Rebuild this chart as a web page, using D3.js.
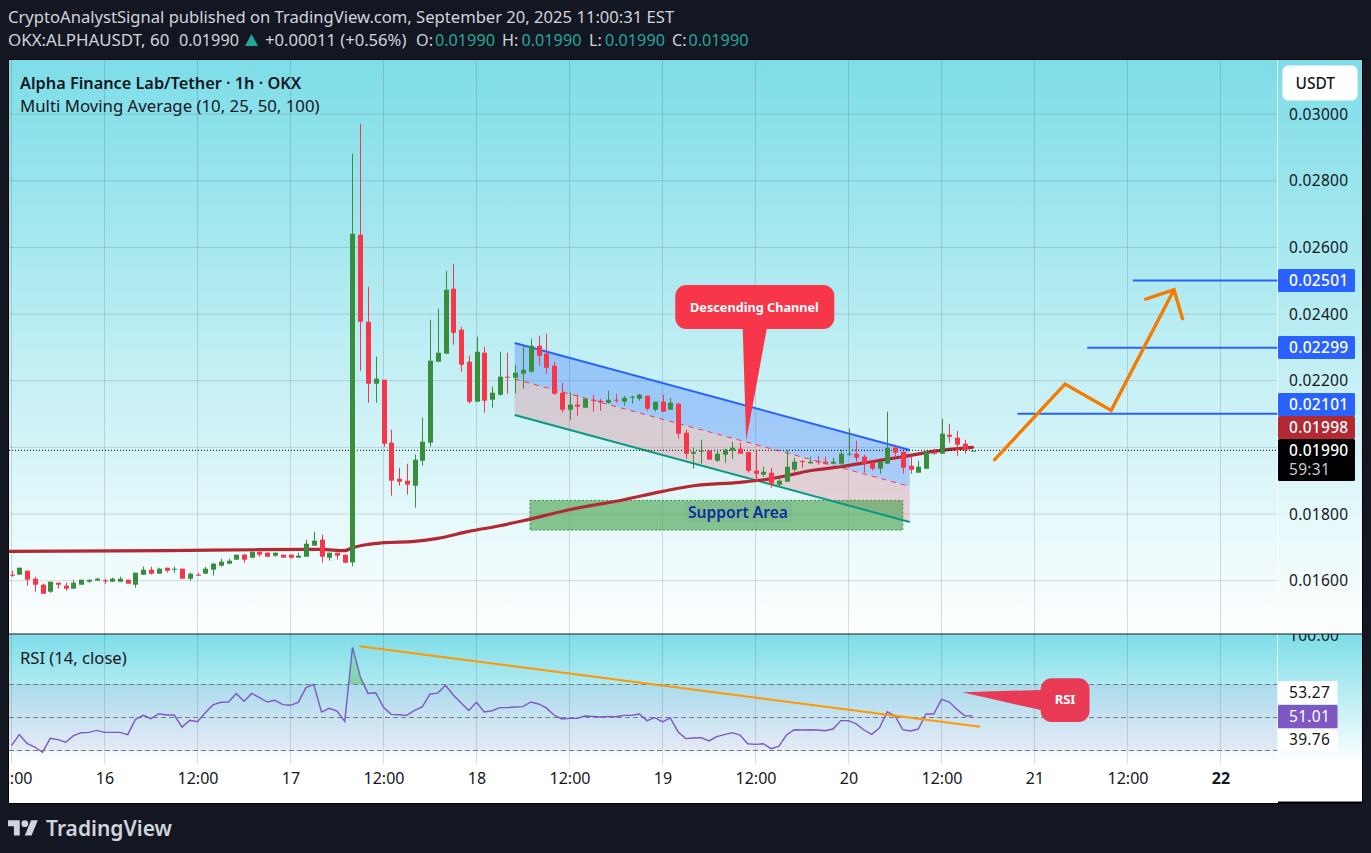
<!DOCTYPE html>
<html>
<head>
<meta charset="utf-8">
<script src="https://cdn.jsdelivr.net/npm/d3@7/dist/d3.min.js"></script>
<style>
html,body{margin:0;padding:0;background:#131722;overflow:hidden}
svg{display:block}
text{font-family:"Noto Sans",sans-serif}
</style>
</head>
<body>
<svg id="c" width="1371" height="853"></svg>
<script>
// Prices are in ticks of 0.00001. Bars are hourly; bar 0 is 12:00 on the 15th.
const opens=[1618,1618,1630,1606,1588,1567,1594,1585,1576,1588,
1597,1600,1601,1597,1597,1603,1588,1618,1633,1621,
1639,1634,1636,1606,1618,1621,1633,1645,1651,1663,
1678,1669,1687,1684,1675,1678,1678,1669,1672,1705,
1723,1669,1684,1678,1655,2638,2377,2191,2203,2014,
1906,1900,1885,1960,2014,2257,2281,2476,2353,2257,
2137,2284,2143,2158,2212,2209,2221,2227,2305,2281,
2245,2164,2113,2128,2119,2143,2140,2134,2143,2137,
2150,2146,2155,2113,2137,2113,2131,2044,1981,1987,
1990,1960,1978,1990,1996,1986,1930,1918,1924,1888,
1897,1933,1959,1952,1958,1957,1951,1951,1978,1981,
1972,1954,1936,1951,1999,1987,1945,1924,1936,1984,
1981,2038,2029,2011,1990];
const highs=[1630,1639,1630,1612,1591,1597,1594,1594,1603,1603,
1603,1609,1606,1609,1612,1603,1624,1642,1642,1639,
1639,1642,1636,1624,1624,1642,1654,1666,1666,1678,
1681,1687,1687,1684,1684,1678,1678,1684,1723,1747,
1738,1684,1684,1678,2881,2971,2482,2272,2203,2053,
1939,1951,1978,2089,2383,2416,2530,2551,2362,2275,
2332,2302,2182,2287,2284,2248,2305,2326,2335,2341,
2257,2194,2164,2158,2146,2158,2146,2170,2161,2155,
2155,2161,2155,2137,2158,2149,2134,2053,1999,2023,
1990,1993,1996,2017,2014,1986,1990,1942,1939,1909,
1993,1969,1962,1972,1975,1972,1969,1993,2056,2020,
1978,1957,1957,2107,2008,1987,1975,1960,1990,1996,
2086,2071,2050,2023,1990];
const lows=[1612,1618,1585,1567,1561,1564,1576,1570,1576,1588,
1594,1600,1591,1597,1597,1591,1579,1618,1618,1621,
1624,1624,1606,1600,1615,1621,1615,1642,1651,1663,
1654,1669,1672,1672,1672,1669,1666,1669,1672,1705,
1654,1660,1663,1654,1643,2230,2134,2134,2002,1855,
1885,1858,1819,1945,2002,2257,2281,2308,2227,2131,
2137,2104,2119,2155,2161,2161,2176,2224,2245,2221,
2158,2104,2083,2095,2119,2107,2110,2131,2134,2125,
2131,2140,2110,2107,2107,2113,2026,1966,1936,1951,
1963,1957,1954,1966,1981,1924,1897,1912,1879,1882,
1897,1927,1939,1952,1948,1948,1951,1942,1975,1957,
1924,1930,1921,1951,1969,1921,1921,1924,1936,1978,
1981,2014,1975,1981,1990];
const closes=[1615,1639,1603,1588,1561,1597,1588,1576,1594,1603,
1603,1606,1598,1606,1606,1591,1624,1633,1621,1636,
1630,1636,1606,1621,1615,1636,1651,1657,1660,1678,
1663,1687,1678,1672,1684,1669,1669,1675,1711,1720,
1672,1684,1675,1654,2641,2377,2191,2206,2011,1900,
1897,1888,1963,2017,2260,2284,2473,2344,2248,2137,
2287,2140,2164,2212,2209,2224,2233,2305,2275,2239,
2161,2113,2128,2122,2146,2140,2135,2143,2140,2149,
2152,2158,2116,2137,2107,2134,2041,1981,1987,1990,
1963,1981,1993,1999,1981,1930,1921,1927,1891,1900,
1942,1957,1956,1957,1955,1951,1957,1981,1981,1969,
1951,1936,1957,1999,1984,1939,1933,1942,1987,1981,
2041,2032,2008,1993,1990];
const maBars=[-1,20,32,40,43,44,46,48,52,55,59,63,66,72,79,84,88,94,98,100,103,107,111,115,119,124];
const maValues=[1688,1690,1693,1694,1690,1699,1709,1714,1718,1727,1748,1765,1780,1813,1843,1868,1885,1895,1906,1915,1930,1942,1957,1972,1988,2000];
const rsiValues=[32.9,39.6,34.3,32.1,28.9,37.4,36.6,35.0,39.0,40.8,
41.0,42.2,41.0,41.0,41.0,39.6,48.9,51.3,49.3,52.3,
51.5,51.5,44.2,48.3,47.5,52.9,57.6,59.2,59.4,64.6,
59.8,64.6,62.0,59.4,60.4,57.8,57.4,59.2,68.1,70.1,
53.3,55.6,53.9,47.7,92.5,74.7,64.6,65.0,56.2,51.9,
51.7,51.3,54.3,56.4,64.2,64.8,69.5,63.6,59.0,54.3,
59.2,53.3,54.1,56.0,56.0,56.4,56.6,59.4,58.2,55.8,
51.5,49.1,49.5,49.5,50.9,50.7,50.3,50.7,50.5,51.3,
51.3,52.1,48.1,49.9,47.3,49.7,41.4,37.2,37.6,37.8,
35.8,38.4,39.6,40.8,39.4,34.1,33.7,34.1,31.1,32.5,
39.4,42.6,42.4,42.6,42.4,42.0,43.0,48.1,48.1,46.1,
42.4,39.8,43.8,53.5,50.9,42.6,41.8,43.0,52.1,52.1,
61.0,59.4,54.9,51.1,51.0];
// Tick labels
const priceTicks=[3000,2800,2600,2400,2200,1800,1600];
const priceGrid=[3000,2800,2600,2400,2200,2000,1800,1600];
const timeBars=[0,12,24,36,48,60,72,84,96,108,120,132,144,156];
const timeLabels=["12:00","16","12:00","17","12:00","18","12:00","19","12:00","20","12:00","21","12:00","22"];
const rsiBands=[70,50,30];
// Drawings
const levelValues=[2501,2299,2101];
const levelStartBars=[144.7,138.8,129.8];
const channelBars=[64.93,115.9];
const channelTop=[2313,1992];
const channelMid=[2205,1883];
const channelBottom=[2097,1776];
const supportBars=[66.9,115];
const supportValues=[1841,1752];
const arrowBars=[126.86,135.94,141.9,150,146.35,150,151.1];
const arrowValues=[1963,2190,2111,2473,2445,2473,2386];
const rsiTrendBars=[44.9,125];
const rsiTrendValues=[93.2,44.4];
const lastClose=1990, maLast=1998, rsiLast=51.01, rsiMa=53.27, rsiOther=39.76;

const svg=d3.select("#c");
const defs=svg.append("defs");
const x=d3.scaleLinear().domain([0,12]).range([11.5,104.5]);
const y=d3.scaleLinear().domain([1600,3000]).range([580.7,114.1]);
const r=d3.scaleLinear().domain([30,70]).range([750.5,684.5]);
const fmt=v=>(v/1e5).toFixed(5);
const F={l:9,r:1362,pa:1278,t:60,sep:634,rb:764,b:803};

function grad(id,y1,y2,stops){
  const g=defs.append("linearGradient").attr("id",id).attr("gradientUnits","userSpaceOnUse")
    .attr("x1",0).attr("x2",0).attr("y1",y1).attr("y2",y2);
  stops.forEach(s=>g.append("stop").attr("offset",s[0]).attr("stop-color",s[1]).attr("stop-opacity",s[2]===undefined?1:s[2]));
}
grad("gMain",F.t,F.sep,[[0,"#7ddde8"],[1,"#ffffff"]]);
grad("gRsi",F.sep,F.rb,[[0,"#7ddde8"],[1,"#ffffff"]]);
grad("gOb",r(100),r(70),[[0,"#4caf50",0.02],[1,"#4caf50",0.45]]);
defs.append("clipPath").attr("id","cpMain").append("rect").attr("x",F.l).attr("y",F.t).attr("width",F.pa-F.l).attr("height",F.sep-F.t);
defs.append("clipPath").attr("id","cpRsi").append("rect").attr("x",F.l).attr("y",F.sep).attr("width",F.pa-F.l).attr("height",F.rb-F.sep);
defs.append("clipPath").attr("id","cpOb").append("rect").attr("x",F.l).attr("y",F.sep).attr("width",F.pa-F.l).attr("height",r(70)-F.sep);
defs.append("clipPath").attr("id","cpTime").append("rect").attr("x",F.l).attr("y",F.rb).attr("width",F.pa-F.l).attr("height",F.b-F.rb);
defs.append("clipPath").attr("id","cpRAxis").append("rect").attr("x",F.pa).attr("y",F.sep).attr("width",F.r-F.pa).attr("height",F.rb-F.sep);

// Frame
svg.append("rect").attr("width",1371).attr("height",853).attr("fill","#131722");
svg.append("rect").attr("x",F.l).attr("y",F.t).attr("width",F.r-F.l).attr("height",F.sep-F.t).attr("fill","url(#gMain)");
svg.append("rect").attr("x",F.l).attr("y",F.sep).attr("width",F.r-F.l).attr("height",F.rb-F.sep).attr("fill","url(#gRsi)");
svg.append("rect").attr("x",F.l).attr("y",F.rb).attr("width",F.r-F.l).attr("height",F.b-F.rb).attr("fill","#fff");

const main=svg.append("g").attr("clip-path","url(#cpMain)");
const gridC="rgba(42,46,57,0.16)";
main.selectAll("line.gx").data(timeBars).join("line").attr("x1",d=>x(d)).attr("x2",d=>x(d)).attr("y1",F.t).attr("y2",F.sep).attr("stroke",gridC);
main.selectAll("line.gy").data(priceGrid).join("line").attr("x1",F.l).attr("x2",F.pa).attr("y1",d=>y(d)).attr("y2",d=>y(d)).attr("stroke",gridC);

// Channel fills and support area sit below the series
const band=(a,b)=>d3.line()([[x(channelBars[0]),y(a[0])],[x(channelBars[1]),y(a[1])],[x(channelBars[1]),y(b[1])],[x(channelBars[0]),y(b[0])]])+"Z";
main.append("path").attr("d",band(channelTop,channelMid)).attr("fill","#2962ff").attr("fill-opacity",0.28);
main.append("path").attr("d",band(channelMid,channelBottom)).attr("fill","#f7364a").attr("fill-opacity",0.2);
main.append("rect").attr("x",x(supportBars[0])).attr("width",x(supportBars[1])-x(supportBars[0]))
  .attr("y",y(supportValues[0])).attr("height",y(supportValues[1])-y(supportValues[0]))
  .attr("fill","#43a047").attr("fill-opacity",0.6).attr("stroke","#388e3c").attr("stroke-dasharray","2 2");
main.append("rect").attr("x",685).attr("y",501.5).attr("width",107).attr("height",21.5).attr("fill","rgba(120,123,134,0.1)");
const seg=(vals,color,w,dash)=>main.append("line").attr("x1",x(channelBars[0])).attr("x2",x(channelBars[1])).attr("y1",y(vals[0])).attr("y2",y(vals[1]))
  .attr("stroke",color).attr("stroke-width",w).attr("stroke-dasharray",dash||null);
seg(channelTop,"#2962ff",2);
seg(channelMid,"#f7364a",1,"5 5");
seg(channelBottom,"#089981",2);

// MA
const maPts=maBars.map((b,i)=>[b,maValues[i]]);
main.append("path").attr("d",d3.line().x(d=>x(d[0])).y(d=>y(d[1])).curve(d3.curveMonotoneX)(maPts))
  .attr("fill","none").attr("stroke","#b22833").attr("stroke-width",3.2).attr("stroke-linecap","round");

// Last price dotted line
main.append("line").attr("x1",F.l).attr("x2",F.pa).attr("y1",y(lastClose)-0.4).attr("y2",y(lastClose)-0.4)
  .attr("stroke","#000").attr("stroke-width",1).attr("stroke-dasharray","1 2");

// Candles
const up="#388e3c", dn="#f7364a";
const col=i=>closes[i]>=opens[i]?up:dn;
const idx=d3.range(opens.length);
main.selectAll("line.w").data(idx).join("line").attr("class","w")
  .attr("x1",i=>Math.round(x(i))+0.5).attr("x2",i=>Math.round(x(i))+0.5)
  .attr("y1",i=>y(highs[i])).attr("y2",i=>y(lows[i])).attr("stroke",col).attr("stroke-width",1);
main.selectAll("rect.b").data(idx).join("rect").attr("class","b")
  .attr("x",i=>Math.round(x(i))-2).attr("width",5)
  .attr("y",i=>Math.min(y(opens[i]),y(closes[i])))
  .attr("height",i=>Math.max(1,Math.abs(y(opens[i])-y(closes[i]))))
  .attr("fill",col);

// Support label
main.append("text").attr("x",738).attr("y",518).attr("text-anchor","middle").attr("font-size",15.6).attr("font-weight",600).attr("fill","#0d2e9c").text("Support Area");

// Levels
main.selectAll("line.lv").data(levelValues).join("line").attr("x1",(d,i)=>x(levelStartBars[i])).attr("x2",F.pa).attr("y1",d=>y(d)).attr("y2",d=>y(d)).attr("stroke","#2962ff").attr("stroke-width",2);

// Orange arrow
const arrow=arrowBars.map((b,i)=>[x(b),y(arrowValues[i])]);
main.append("path").attr("d",d3.line()(arrow.slice(0,4))+"M"+arrow[4]+"L"+arrow[5]+"L"+arrow[6])
  .attr("fill","none").attr("stroke","#f57c00").attr("stroke-width",3.4).attr("stroke-linejoin","miter").attr("stroke-linecap","round");

// Callout helper
function callout(g,x0,x1,y0,y1,rad,tip,base,fill,baseSide){
  const p=d3.path();
  if(baseSide==="bottom"){
    p.moveTo(x0+rad,y0);p.arcTo(x1,y0,x1,y0+rad,rad);p.arcTo(x1,y1,x1-rad,y1,rad);
    p.lineTo(base[1],y1);p.lineTo(tip[0],tip[1]);p.lineTo(base[0],y1);
    p.arcTo(x0,y1,x0,y1-rad,rad);p.arcTo(x0,y0,x0+rad,y0,rad);
  } else {
    p.moveTo(x0+rad,y0);p.arcTo(x1,y0,x1,y0+rad,rad);p.arcTo(x1,y1,x1-rad,y1,rad);p.arcTo(x0,y1,x0,y1-rad,rad);
    p.lineTo(x0,base[1]);p.lineTo(tip[0],tip[1]);p.lineTo(x0,base[0]);p.arcTo(x0,y0,x0+rad,y0,rad);
  }
  p.closePath();
  g.append("path").attr("d",p.toString()).attr("fill",fill);
}
callout(main,x(85.65),x(106.17),y(2487),y(2355),11,[x(94.8),y(2021)],[x(94.35),x(97.45)],"#f7364a","bottom");
main.append("text").attr("x",754.5).attr("y",311.5).attr("text-anchor","middle").attr("font-size",12.7).attr("font-weight",700).attr("fill","#fff").text("Descending Channel");

// Chart title
svg.append("text").attr("x",20).attr("y",89).attr("font-size",16.3).attr("font-weight",600).attr("fill","#131722").text("Alpha Finance Lab/Tether · 1h · OKX");
svg.append("text").attr("x",20).attr("y",111.5).attr("font-size",16.8).attr("fill","#131722").text("Multi Moving Average (10, 25, 50, 100)");

// RSI pane
const rp=svg.append("g").attr("clip-path","url(#cpRsi)");
rp.append("rect").attr("x",F.l).attr("width",F.pa-F.l).attr("y",r(70)).attr("height",r(30)-r(70)).attr("fill","#7e57c2").attr("fill-opacity",0.1);
rp.selectAll("line.gx").data(timeBars).join("line").attr("x1",d=>x(d)).attr("x2",d=>x(d)).attr("y1",F.sep).attr("y2",F.rb).attr("stroke",gridC);
rp.selectAll("line.bd").data(rsiBands).join("line").attr("x1",F.l).attr("x2",F.pa).attr("y1",d=>r(d)).attr("y2",d=>r(d)).attr("stroke","#787b86").attr("stroke-dasharray","5 3");
svg.append("path").attr("clip-path","url(#cpOb)")
  .attr("d",d3.area().x((d,i)=>x(i)).y0(r(70)).y1(d=>r(d))(rsiValues)).attr("fill","url(#gOb)");
rp.append("path").attr("d",d3.line().x((d,i)=>x(i)).y(d=>r(d))(rsiValues)).attr("fill","none").attr("stroke","#7e57c2").attr("stroke-width",1.4);
rp.append("line").attr("x1",x(rsiTrendBars[0])).attr("x2",x(rsiTrendBars[1])).attr("y1",r(rsiTrendValues[0])).attr("y2",r(rsiTrendValues[1])).attr("stroke","#ff9800").attr("stroke-width",2);
callout(rp,x(132.8),x(139.1),r(73.8),r(47.3),11,[x(122.7),r(65.3)],[r(66.7),r(54.5)],"#e83a55","left");
rp.append("text").attr("x",1065).attr("y",704).attr("text-anchor","middle").attr("font-size",13).attr("font-weight",700).attr("fill","#fff").text("RSI");
svg.append("text").attr("x",20).attr("y",663.5).attr("font-size",16.6).attr("fill","#131722").text("RSI (14, close)");

// Time axis
const timeAxis=d3.axisBottom(x).tickValues(timeBars).tickSize(0).tickPadding(0).tickFormat((d,i)=>timeLabels[i]);
const tg=svg.append("g").attr("clip-path","url(#cpTime)").append("g").attr("transform",`translate(0,${F.rb+9})`).call(timeAxis);
tg.select(".domain").remove();
tg.selectAll("text").attr("font-size",16).attr("font-family","'Noto Sans',sans-serif").attr("fill","#131722")
  .attr("font-weight",(d,i)=>timeLabels[i]==="22"?700:400);

// Price axis
svg.append("line").attr("x1",F.pa-0.5).attr("x2",F.pa-0.5).attr("y1",F.t).attr("y2",F.rb).attr("stroke","#fff").attr("stroke-opacity",0.7);
const axisAttrs=s=>s.attr("font-size",15.5).attr("letter-spacing",0.3).attr("fill","#131722");
const priceAxis=d3.axisRight(y).tickValues(priceTicks).tickSize(0).tickPadding(0).tickFormat(fmt);
const pg=svg.append("g").attr("transform","translate(1289,0)").call(priceAxis);
pg.select(".domain").remove();
pg.selectAll("text").attr("font-family","'Noto Sans',sans-serif").call(axisAttrs);

function tag(y0,y1,fill,label,color,ty){
  svg.append("rect").attr("x",F.pa).attr("y",y0).attr("width",77).attr("height",y1-y0).attr("fill",fill).attr("rx",1.5);
  axisAttrs(svg.append("text").attr("x",1289).attr("y",ty||((y0+y1)/2+5.5)).attr("font-weight",500).text(label)).attr("fill",color);
}
tag(269,292,"#2962ff",fmt(levelValues[0]),"#fff");
tag(336,359,"#2962ff",fmt(levelValues[1]),"#fff");
tag(393,416,"#2962ff",fmt(levelValues[2]),"#fff");
tag(416,439,"#b22833",fmt(maLast),"#fff");
tag(439,481,"#000000",fmt(lastClose),"#fff",456);
axisAttrs(svg.append("text").attr("x",1289).attr("y",475).text("59:31")).attr("fill","#c8c8c8");

// USDT button
svg.append("rect").attr("x",1282.5).attr("y",65.5).attr("width",75).attr("height",35).attr("rx",6).attr("fill","#fff").attr("stroke","#cfeef2");
svg.append("text").attr("x",1295.5).attr("y",88.5).attr("font-size",15.5).attr("font-weight",500).attr("fill","#131722").text("USDT");

// RSI axis labels
function rtag(y0,y1,fill,v,color){
  svg.append("rect").attr("x",F.pa).attr("y",y0).attr("width",59.5).attr("height",y1-y0).attr("fill",fill).attr("rx",1);
  axisAttrs(svg.append("text").attr("x",1289).attr("y",(y0+y1)/2+5.5).text(v.toFixed(2))).attr("fill",color);
}
rtag(681,704,"#fff",rsiMa,"#131722");
rtag(705,728.5,"#7e57c2",rsiLast,"#fff");
rtag(728.5,750.7,"#fff",rsiOther,"#131722");
svg.append("g").attr("clip-path","url(#cpRAxis)").append("text").attr("x",1289).attr("y",r(100)+5.5).attr("font-size",15.5).attr("letter-spacing",0.3).attr("fill","#131722").text("100.00");

// Frame lines
svg.append("line").attr("x1",F.l).attr("x2",F.r).attr("y1",F.sep).attr("y2",F.sep).attr("stroke","#131722").attr("stroke-width",1.2);
svg.append("rect").attr("x",F.l-0.5).attr("y",F.t-0.5).attr("width",F.r-F.l+1).attr("height",F.b-F.t+1).attr("fill","none").attr("stroke","#000");
svg.append("line").attr("x1",F.pa).attr("x2",F.r).attr("y1",F.b-0.5).attr("y2",F.b-0.5).attr("stroke","#000").attr("stroke-width",2);

// Header
const hC="#d1d4dc", teal="#26a69a";
const ht=(x0,yy,s,c,fs)=>svg.append("text").attr("x",x0).attr("y",yy).attr("font-size",fs||16.2).attr("fill",c).text(s);
ht(8,23,"CryptoAnalystSignal published on TradingView.com, September 20, 2025 11:00:31 EST",hC,16.6);
ht(8,46,"OKX:ALPHAUSDT, 60",hC,16.9);
ht(179,46,"0.01990",hC);
svg.append("path").attr("d","M245,46L251.5,34L258,46Z").attr("fill",teal);
ht(265,46,"+0.00011 (+0.56%)",hC,16.6);
ht(416,46,"O:",hC);ht(435,46,"0.01990",teal);
ht(502,46,"H:",hC);ht(521.5,46,"0.01990",teal);
ht(589,46,"L:",hC);ht(605,46,"0.01990",teal);
ht(672,46,"C:",hC);ht(688.5,46,"0.01990",teal);

// Footer logo
svg.append("g").attr("transform","translate(8,817) scale(0.84)").attr("fill","#d1d4dc").call(g=>{
  g.append("path").attr("d","M14 22H7V11H0V4h14v18zM28 22h-8l7.5-18h8L28 22z");
  g.append("circle").attr("cx",20).attr("cy",8).attr("r",4);
});
svg.append("text").attr("x",46).attr("y",836).attr("font-size",21).attr("font-weight",600).attr("fill","#d1d4dc").text("TradingView");
</script>
</body>
</html>
